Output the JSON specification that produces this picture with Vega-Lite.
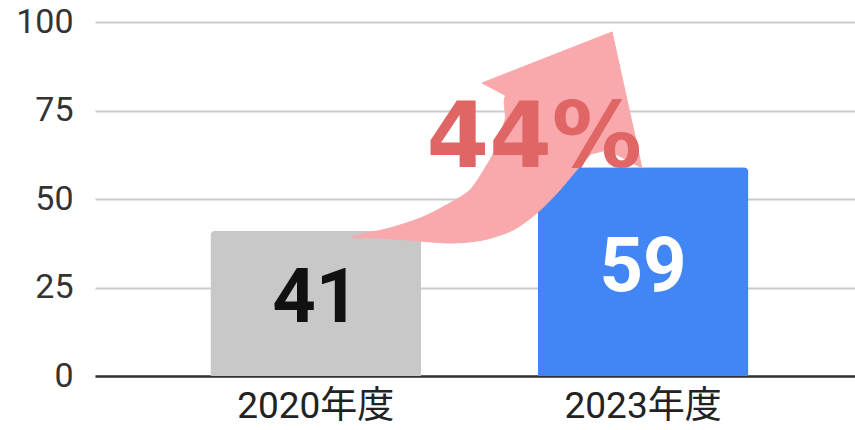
{
  "$schema": "https://vega.github.io/schema/vega-lite/v6.json",
  "width": 760,
  "height": 354,
  "autosize": "none",
  "padding": {"left": 95, "top": 22, "right": 0, "bottom": 54},
  "background": "white",
  "config": {"view": {"stroke": null}},
  "datasets": {
    "bars": [
      {"year": "2020年度", "value": 41},
      {"year": "2023年度", "value": 59}
    ],
    "arrowBody": [
      {"i": 0, "x": 33.82, "y": 39.27},
      {"i": 1, "x": 37.5, "y": 38.98},
      {"i": 2, "x": 41.05, "y": 38.42},
      {"i": 3, "x": 46.71, "y": 37.57},
      {"i": 4, "x": 51.05, "y": 38.42},
      {"i": 5, "x": 55.0, "y": 41.24},
      {"i": 6, "x": 58.16, "y": 46.05},
      {"i": 7, "x": 60.92, "y": 51.98},
      {"i": 8, "x": 63.16, "y": 57.63},
      {"i": 9, "x": 65.13, "y": 62.43},
      {"i": 10, "x": 66.84, "y": 65.54},
      {"i": 11, "x": 54.87, "y": 79.38},
      {"i": 12, "x": 53.95, "y": 72.32},
      {"i": 13, "x": 52.63, "y": 63.84},
      {"i": 14, "x": 51.32, "y": 58.76},
      {"i": 15, "x": 49.34, "y": 52.54},
      {"i": 16, "x": 46.71, "y": 48.87},
      {"i": 17, "x": 43.16, "y": 44.92},
      {"i": 18, "x": 38.82, "y": 41.81}
    ],
    "arrowHead": [
      {"i": 0, "x": 50.92, "y": 82.77},
      {"i": 1, "x": 68.03, "y": 97.18},
      {"i": 2, "x": 71.97, "y": 58.76},
      {"i": 3, "x": 50.92, "y": 82.77}
    ]
  },
  "resolve": {"scale": {"x": "independent", "y": "independent", "color": "independent"}},
  "layer": [
    {
      "data": {"name": "bars"},
      "mark": {"type": "bar", "cornerRadiusTopLeft": 5, "cornerRadiusTopRight": 5},
      "encoding": {
        "x": {
          "field": "year", "type": "nominal",
          "scale": {"type": "band", "paddingInner": 0.356, "paddingOuter": 0.339, "align": 0.52},
          "axis": {
            "title": null, "labelAngle": 0, "ticks": false, "grid": false,
            "domain": true, "domainColor": "#333333", "domainWidth": 2.5,
            "labelFont": "Roboto, 'Noto Sans CJK JP'", "labelFontSize": 37,
            "labelColor": "#222222", "labelPadding": 12
          }
        },
        "y": {
          "field": "value", "type": "quantitative",
          "scale": {"domain": [0, 100], "nice": false},
          "axis": {
            "title": null, "values": [0, 25, 50, 75, 100], "domain": false, "ticks": false,
            "grid": true, "gridColor": "#cccccc", "gridWidth": 2,
            "labelFont": "Roboto", "labelFontSize": 34, "labelColor": "#333333",
            "labelPadding": 22
          }
        },
        "color": {
          "field": "year", "type": "nominal",
          "scale": {"domain": ["2020年度", "2023年度"], "range": ["#c8c8c8", "#4285f4"]},
          "legend": null
        }
      }
    },
    {
      "data": {"name": "arrowBody"},
      "mark": {"type": "line", "interpolate": "cardinal-closed", "tension": 0.15, "fill": "#f9a9ab", "stroke": "#f9a9ab", "strokeWidth": 1},
      "encoding": {
        "x": {"field": "x", "type": "quantitative", "scale": {"domain": [0, 100], "nice": false, "zero": false}, "axis": null},
        "y": {"field": "y", "type": "quantitative", "scale": {"domain": [0, 100], "nice": false}, "axis": null},
        "order": {"field": "i", "type": "quantitative"}
      }
    },
    {
      "data": {"name": "arrowHead"},
      "mark": {"type": "line", "interpolate": "linear", "fill": "#f9a9ab", "stroke": "#f9a9ab", "strokeWidth": 1},
      "encoding": {
        "x": {"field": "x", "type": "quantitative", "scale": {"domain": [0, 100], "nice": false, "zero": false}, "axis": null},
        "y": {"field": "y", "type": "quantitative", "scale": {"domain": [0, 100], "nice": false}, "axis": null},
        "order": {"field": "i", "type": "quantitative"}
      }
    },
    {
      "data": {"values": [{"label": "44%"}]},
      "mark": {"type": "text", "font": "DejaVu Sans", "fontWeight": "bold", "fontSize": 90, "color": "#e06666", "align": "center", "baseline": "alphabetic"},
      "encoding": {
        "x": {"datum": 57.8, "type": "quantitative", "scale": {"domain": [0, 100], "nice": false, "zero": false}, "axis": null},
        "y": {"datum": 59.0, "type": "quantitative", "scale": {"domain": [0, 100], "nice": false}, "axis": null},
        "text": {"field": "label"}
      }
    },
    {
      "data": {"name": "bars"},
      "mark": {"type": "text", "font": "Roboto", "fontWeight": "bold", "fontSize": 76, "baseline": "middle", "align": "center", "dy": -4},
      "encoding": {
        "x": {
          "field": "year", "type": "nominal",
          "scale": {"type": "band", "paddingInner": 0.356, "paddingOuter": 0.339, "align": 0.52},
          "axis": null
        },
        "y": {"field": "value", "type": "quantitative", "scale": {"domain": [0, 200], "nice": false}, "axis": null},
        "text": {"field": "value"},
        "color": {
          "condition": {"test": "datum.year === '2023年度'", "value": "#ffffff"},
          "value": "#111111"
        }
      }
    }
  ]
}
